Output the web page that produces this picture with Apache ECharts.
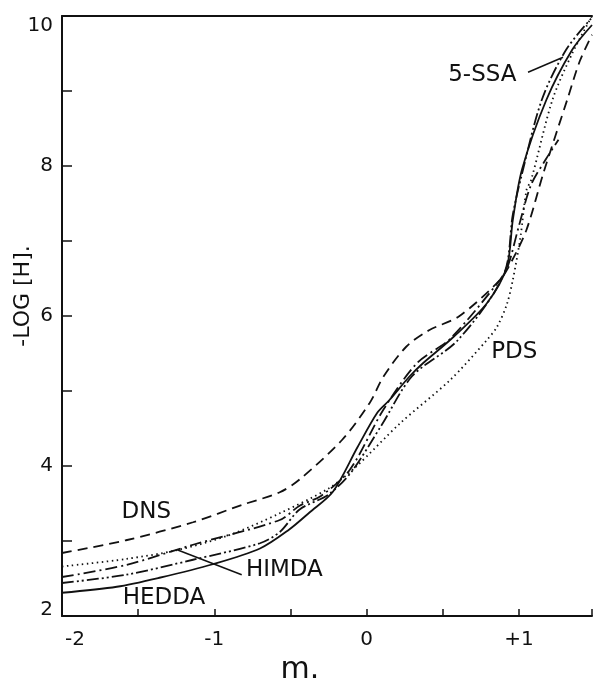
<!DOCTYPE html>
<html>
<head>
<meta charset="utf-8">
<script src="https://cdn.jsdelivr.net/npm/echarts@6/dist/echarts.min.js"></script>
<style>
html, body { margin: 0; padding: 0; background: #fff; }
#chart { width: 593px; height: 681px; }
</style>
</head>
<body>
<div id="chart"></div>
<script>
// curves: m (x) and -log[H] (y)
const heddaX = [-2.0, -1.64, -1.36, -1.01, -0.70, -0.51, -0.375, -0.22, -0.06, 0.07, 0.15, 0.28, 0.37, 0.57, 0.79, 0.92, 0.96, 1.02, 1.18, 1.35, 1.48];
const heddaY = [2.31, 2.39, 2.51, 2.69, 2.90, 3.15, 3.38, 3.66, 4.25, 4.71, 4.88, 5.19, 5.37, 5.72, 6.17, 6.65, 7.28, 7.95, 8.88, 9.55, 9.88];

const dnsX = [-2.0, -1.58, -1.14, -0.82, -0.57, -0.44, -0.16, 0.02, 0.11, 0.26, 0.41, 0.61, 0.875, 0.95, 1.05, 1.16, 1.32, 1.40, 1.48];
const dnsY = [2.84, 3.01, 3.25, 3.48, 3.65, 3.82, 4.35, 4.84, 5.19, 5.59, 5.81, 6.00, 6.48, 6.72, 7.15, 7.90, 8.90, 9.40, 9.75];

const himdaX = [-2.0, -1.58, -1.14, -0.57, -0.44, -0.3, -0.11, 0.11, 0.33, 0.55, 0.875, 0.93, 1.0, 1.08, 1.18, 1.26];
const himdaY = [2.52, 2.68, 2.95, 3.28, 3.47, 3.60, 3.95, 4.75, 5.37, 5.70, 6.48, 6.68, 7.20, 7.75, 8.10, 8.35];

const ssaX = [-2.0, -1.58, -1.14, -0.70, -0.57, -0.44, -0.25, -0.1, 0.1, 0.3, 0.6, 0.9, 0.96, 1.01, 1.15, 1.31, 1.48];
const ssaY = [2.44, 2.55, 2.75, 2.97, 3.12, 3.42, 3.62, 3.92, 4.55, 5.20, 5.68, 6.55, 7.35, 7.81, 8.88, 9.55, 9.98];

const pdsX = [-2.0, -1.58, -1.24, -0.9, -0.57, -0.25, -0.07, 0.22, 0.55, 0.79, 0.855, 0.92, 0.96, 1.01, 1.05, 1.08, 1.22, 1.35, 1.48];
const pdsY = [2.66, 2.76, 2.88, 3.08, 3.37, 3.70, 3.99, 4.57, 5.15, 5.68, 5.85, 6.15, 6.48, 7.05, 7.68, 7.81, 8.88, 9.50, 10.0];

// curve names written on the plot and where they sit
const labelNames = ['DNS', 'HEDDA', 'HIMDA', '5-SSA', 'PDS'];
const labelX = [-1.447, -1.33, -0.54, 0.76, 0.97];
const labelY = [3.39, 2.24, 2.61, 9.21, 5.52];

// leader lines from labels to curves
const himdaLeadX = [-1.24, -0.82];
const himdaLeadY = [2.88, 2.55];
const ssaLeadX = [1.06, 1.29];
const ssaLeadY = [9.25, 9.45];

const xTickText = { '-2': '{a|-2}', '-1': '-1', '0': '0', '1': '+1' };
const yTickText = { '2': '{b|2}', '4': '4', '6': '6', '8': '8', '10': '{t|10}' };

const pairs = (xs, ys) => xs.map((x, i) => [x, ys[i]]);
const ink = '#111';
const font = 'DejaVu Sans, sans-serif';

const curve = (name, xs, ys, type) => ({
    name: name,
    type: 'line',
    data: pairs(xs, ys),
    smooth: 0.3,
    symbol: 'none',
    lineStyle: { color: ink, width: 1.8, type: type },
    silent: true
});

const leader = (xs, ys) => ({
    type: 'line',
    data: pairs(xs, ys),
    symbol: 'none',
    lineStyle: { color: ink, width: 1.5 },
    silent: true
});

let chart = echarts.init(document.getElementById('chart'));
chart.setOption({
    animation: false,
    backgroundColor: '#fff',
    grid: { left: 62, right: 1, top: 16, bottom: 65, containLabel: false, outerBoundsMode: 'none' },
    xAxis: [{
        type: 'value',
        min: -2,
        max: 1.48,
        interval: 0.5,
        name: 'm.',
        nameLocation: 'middle',
        nameGap: 39,
        nameMoveOverlap: false,
        nameTextStyle: { fontFamily: font, fontSize: 30, color: ink, padding: [0, 54, 0, 0] },
        axisLine: { show: true, onZero: false, lineStyle: { color: ink, width: 2 } },
        axisTick: { show: true, inside: true, length: 7, lineStyle: { color: ink, width: 1.5 } },
        splitLine: { show: false },
        axisLabel: {
            margin: 14,
            fontFamily: font,
            fontSize: 20,
            color: ink,
            formatter: v => xTickText[String(v)] || '',
            rich: { a: { fontFamily: font, fontSize: 20, color: ink, padding: [0, 0, 0, 26] } }
        }
    }, {
        type: 'value',
        position: 'top',
        min: -2,
        max: 1.48,
        axisLine: { show: true, onZero: false, lineStyle: { color: ink, width: 2 } },
        axisTick: { show: false },
        axisLabel: { show: false },
        splitLine: { show: false }
    }],
    yAxis: {
        type: 'value',
        min: 2,
        max: 10,
        interval: 1,
        name: '-LOG [H].',
        nameLocation: 'middle',
        nameGap: 28,
        nameMoveOverlap: false,
        nameTextStyle: { fontFamily: font, fontSize: 22, color: ink, padding: [0, 0, 0, 40] },
        axisLine: { show: true, onZero: false, lineStyle: { color: ink, width: 2 } },
        axisTick: { show: true, inside: true, length: 10, lineStyle: { color: ink, width: 1.5 } },
        splitLine: { show: false },
        axisLabel: {
            margin: 9,
            fontFamily: font,
            fontSize: 20,
            color: ink,
            formatter: v => yTickText[String(v)] || '',
            rich: {
                t: { fontFamily: font, fontSize: 20, color: ink, padding: [20, 0, 0, 0] },
                b: { fontFamily: font, fontSize: 20, color: ink, padding: [0, 0, 12, 0] }
            }
        }
    },
    series: [
        curve('HEDDA', heddaX, heddaY, 'solid'),
        curve('DNS', dnsX, dnsY, [10, 6]),
        curve('HIMDA', himdaX, himdaY, [12, 4, 2, 4]),
        curve('5-SSA', ssaX, ssaY, [12, 3, 2, 3, 2, 3]),
        curve('PDS', pdsX, pdsY, [1.5, 3.5]),
        leader(himdaLeadX, himdaLeadY),
        leader(ssaLeadX, ssaLeadY),
        {
            type: 'scatter',
            symbolSize: 0,
            silent: true,
            itemStyle: { opacity: 1 },
            data: labelNames.map((n, i) => ({ name: n, value: [labelX[i], labelY[i]] })),
            label: {
                show: true,
                position: 'inside',
                formatter: p => p.name,
                fontFamily: font,
                fontSize: 23,
                color: ink,
                opacity: 1
            }
        }
    ]
});
</script>
</body>
</html>
